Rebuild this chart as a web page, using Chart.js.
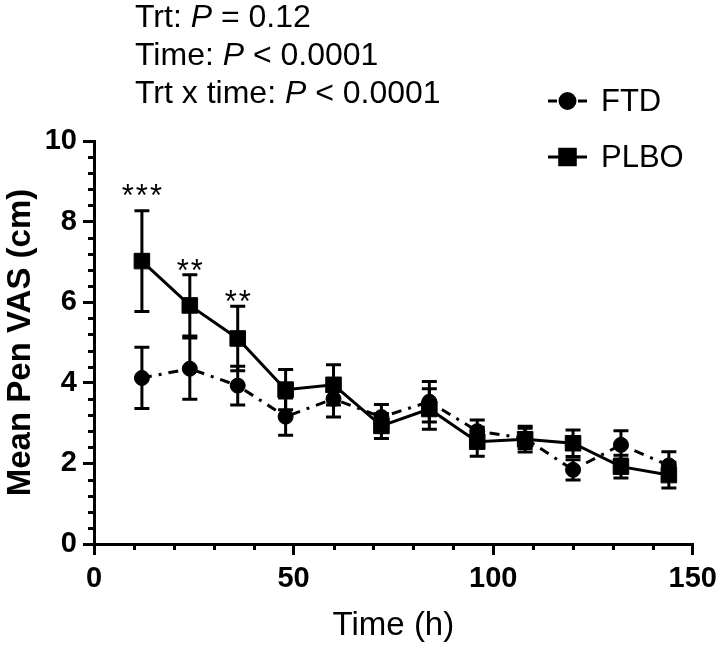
<!DOCTYPE html>
<html><head><meta charset="utf-8">
<script src="https://cdn.jsdelivr.net/npm/chart.js@4.4.1/dist/chart.umd.min.js"></script>
<style>html,body{margin:0;padding:0;background:#fff;} #wrap{width:724px;height:651px;}</style>
</head><body><div id="wrap"><canvas id="c" width="724" height="651"></canvas></div>
<script>
// ---- data ----
const times = [12, 24, 36, 48, 60, 72, 84, 96, 108, 120, 132, 144];
const ftdMean = [4.12, 4.35, 3.93, 3.16, 3.60, 3.15, 3.53, 2.80, 2.62, 1.84, 2.46, 1.95];
const ftdErr  = [0.76, 0.76, 0.48, 0.46, 0.45, 0.31, 0.50, 0.28, 0.25, 0.25, 0.35, 0.34];
const plboMean = [7.02, 5.92, 5.10, 3.83, 3.95, 2.93, 3.35, 2.54, 2.60, 2.50, 1.92, 1.71];
const plboErr  = [1.25, 0.76, 0.80, 0.50, 0.50, 0.31, 0.50, 0.36, 0.32, 0.33, 0.28, 0.32];
const seriesNames = ['FTD', 'PLBO'];
const starTimes = [12, 24, 36];
const starLabels = ['***', '**', '**'];
const starLevels = [8.86, 7.0, 6.23];
const statNames = ['Trt', 'Time', 'Trt x time'];
const statOps = ['=', '<', '<'];
const statVals = ['0.12', '0.0001', '0.0001'];
const xTicks = [0, 50, 100, 150];
const yTicks = [0, 2, 4, 6, 8, 10];

const FONT = '"Liberation Sans", Arial, sans-serif';
Chart.defaults.font.family = FONT;
Chart.defaults.color = '#000';

const toPts = (m) => m.map((v, i) => ({x: times[i], y: v}));

const errorBars = {
  id: 'errorBars',
  beforeDatasetsDraw(chart) {
    const ctx = chart.ctx, xs = chart.scales.x, ys = chart.scales.y;
    chart.data.datasets.forEach(ds => {
      ds.data.forEach((p, i) => {
        const e = ds.errors[i];
        const x = xs.getPixelForValue(p.x);
        const yt = ys.getPixelForValue(p.y + e), yb = ys.getPixelForValue(p.y - e);
        ctx.save();
        ctx.strokeStyle = '#000'; ctx.lineWidth = 3; ctx.setLineDash([]);
        ctx.beginPath();
        ctx.moveTo(x, yt); ctx.lineTo(x, yb);
        ctx.moveTo(x - 7.5, yt); ctx.lineTo(x + 7.5, yt);
        ctx.moveTo(x - 7.5, yb); ctx.lineTo(x + 7.5, yb);
        ctx.stroke();
        ctx.restore();
      });
    });
  }
};

const extras = {
  id: 'extras',
  afterDraw(chart) {
    const ctx = chart.ctx, xs = chart.scales.x, ys = chart.scales.y;
    const ca = chart.chartArea;
    ctx.save();
    ctx.strokeStyle = '#000'; ctx.lineWidth = 3; ctx.setLineDash([]);
    // minor ticks
    ctx.beginPath();
    for (let v = 10; v < 150; v += 10) {
      if (v % 50 === 0) continue;
      const x = Math.round(xs.getPixelForValue(v)) + 0.5;
      ctx.moveTo(x, ca.bottom); ctx.lineTo(x, ca.bottom + 6);
    }
    for (let k = 1; k < 25; k++) {
      if (k % 5 === 0) continue;
      const y = Math.round(ys.getPixelForValue(k * 0.4)) + 0.5;
      ctx.moveTo(ca.left, y); ctx.lineTo(ca.left - 6, y);
    }
    ctx.stroke();
    // significance stars
    ctx.fillStyle = '#000';
    ctx.font = '31px ' + FONT;
    ctx.textAlign = 'center'; ctx.textBaseline = 'alphabetic';
    ctx.letterSpacing = '2px';
    starTimes.forEach((t, i) => {
      ctx.fillText(starLabels[i], xs.getPixelForValue(t) + 1, ys.getPixelForValue(starLevels[i]) + 19);
    });
    ctx.letterSpacing = '0px';
    // stats text
    ctx.textAlign = 'left';
    statNames.forEach((n, i) => {
      let x = 135; const y = 27 + i * 38;
      const parts = [[n + ': ', false], ['P', true], [' ' + statOps[i] + ' ' + statVals[i], false]];
      parts.forEach(([t, it]) => {
        ctx.font = (it ? 'italic ' : '') + '32px ' + FONT;
        ctx.fillText(t, x, y);
        x += ctx.measureText(t).width;
      });
    });
    // legend
    chart.data.datasets.forEach((ds, i) => {
      const cy = 101 + i * 56;
      const x0 = 548, x1 = 587, cx = (x0 + x1) / 2;
      ctx.lineWidth = 3;
      ctx.beginPath();
      if (i === 0) {
        ctx.moveTo(x0, cy); ctx.lineTo(x0 + 9, cy);
        ctx.moveTo(x1 - 9, cy); ctx.lineTo(x1, cy);
      } else {
        ctx.moveTo(x0, cy); ctx.lineTo(x1, cy);
      }
      ctx.stroke();
      Chart.helpers.drawPoint(ctx, {pointStyle: ds.pointStyle, radius: ds.pointRadius, borderWidth: 1}, cx, cy);
      ctx.fillStyle = '#000';
      ctx.fill();
      ctx.font = '31px ' + FONT;
      ctx.textBaseline = 'middle';
      ctx.fillText(ds.label, 601, cy + 1);
    });
    ctx.restore();
  }
};

new Chart(document.getElementById('c'), {
  type: 'line',
  data: {
    datasets: [
      {label: seriesNames[0], data: toPts(ftdMean), errors: ftdErr,
       borderColor: '#000', backgroundColor: '#000', borderWidth: 3,
       borderDash: [10, 7, 3, 7], pointStyle: 'circle', pointRadius: 7.5,
       pointBorderWidth: 1, tension: 0},
      {label: seriesNames[1], data: toPts(plboMean), errors: plboErr,
       borderColor: '#000', backgroundColor: '#000', borderWidth: 3,
       pointStyle: 'rect', pointRadius: 11, pointBorderWidth: 1, tension: 0}
    ]
  },
  options: {
    responsive: false, animation: false,
    layout: {padding: {top: 141, right: 26, left: 0, bottom: 0}},
    plugins: {legend: {display: false}, tooltip: {enabled: false}},
    scales: {
      x: {
        type: 'linear', min: 0, max: 150,
        afterBuildTicks: (s) => { s.ticks = xTicks.map(v => ({value: v})); },
        ticks: {font: {size: 29, weight: 'bold'}, color: '#000', padding: 7},
        grid: {display: true, drawOnChartArea: false, drawTicks: true, tickLength: 11,
               tickWidth: 3, tickColor: '#000', color: '#000', lineWidth: 3},
        border: {display: true, color: '#000', width: 3},
        title: {display: true, text: 'Time (h)', font: {size: 33}, color: '#000', padding: {top: 0, bottom: 5}},
        afterFit: (s) => { s.height = 107; }
      },
      y: {
        type: 'linear', min: 0, max: 10,
        afterBuildTicks: (s) => { s.ticks = yTicks.map(v => ({value: v})); },
        ticks: {font: {size: 29, weight: 'bold'}, color: '#000', padding: 6},
        grid: {display: true, drawOnChartArea: false, drawTicks: true, tickLength: 11,
               tickWidth: 3, tickColor: '#000', color: '#000', lineWidth: 3},
        border: {display: true, color: '#000', width: 3},
        title: {display: true, text: 'Mean Pen VAS (cm)', font: {size: 33, weight: 'bold'}, color: '#000', padding: {top: 1, bottom: 0}},
        afterFit: (s) => { s.width = 94; }
      }
    }
  },
  plugins: [errorBars, extras]
});
</script>
</body></html>
